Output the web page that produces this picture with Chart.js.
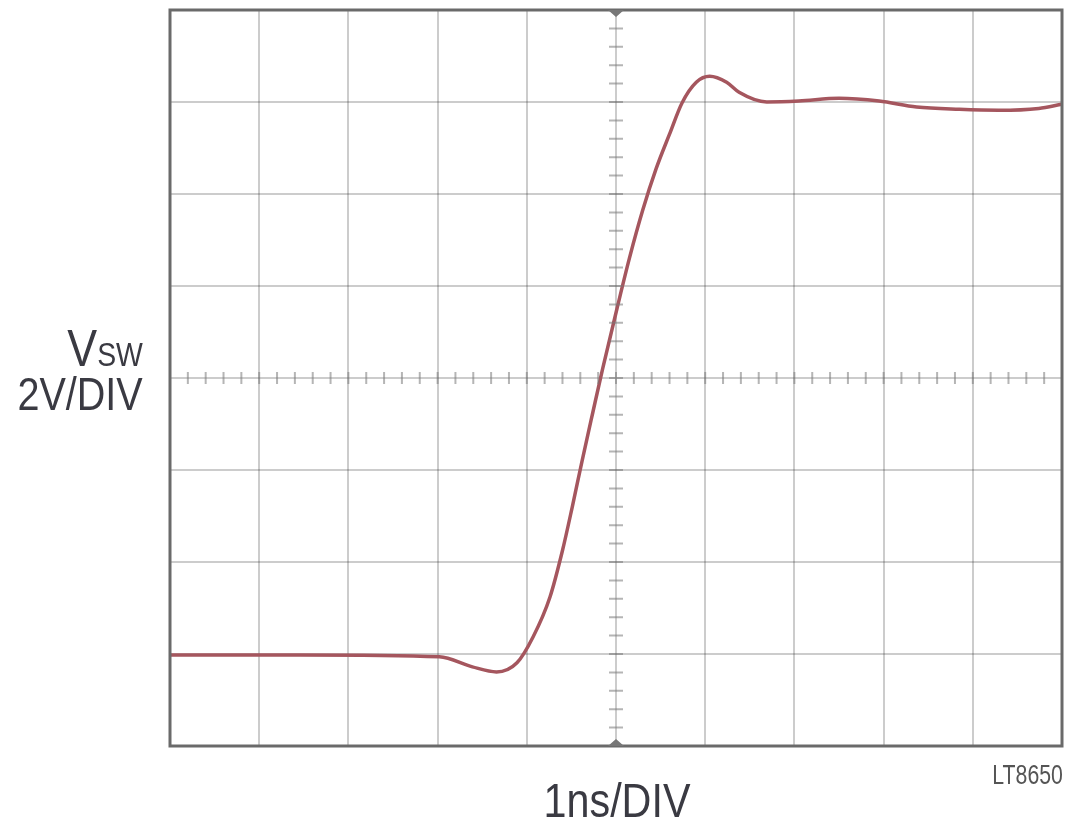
<!DOCTYPE html>
<html>
<head>
<meta charset="utf-8">
<script src="https://cdn.jsdelivr.net/npm/chart.js@4.4.1/dist/chart.umd.min.js"></script>
<style>
  html, body { margin: 0; padding: 0; background: #fff; }
  #wrap { position: relative; width: 1068px; height: 826px; overflow: hidden; }
  #scope { position: absolute; left: 0; top: 0; }
  .lbl { position: absolute; font-family: "Liberation Sans", Arial, sans-serif; color: #3a3a42; white-space: nowrap; line-height: 1; }
</style>
</head>
<body>
<div id="wrap">
  <canvas id="scope" width="1068" height="826"></canvas>
  <div class="lbl" style="right:925px; top:322px; transform:scaleX(0.86); transform-origin:right top;"><span style="font-size:52px">V</span><span style="font-size:33px">SW</span></div>
  <div class="lbl" style="right:925px; top:371px; font-size:46px; transform:scaleX(0.86); transform-origin:right top;">2V/DIV</div>
  <div class="lbl" style="left:617px; top:777px; font-size:48px; transform:translateX(-50%) scaleX(0.86);">1ns/DIV</div>
  <div class="lbl" style="right:5px; top:761px; font-size:28px; color:#555; transform:scaleX(0.76); transform-origin:right top;">LT8650</div>
</div>
<script>
'use strict';

// ============================================================
// DATA (1ns/DIV, 2V/DIV, centre = 0)
// ============================================================
const timeNs   = [0, 1.46, 3.02, 3.39, 3.66, 3.89, 4.07, 4.26, 4.40, 4.51, 4.62, 4.74, 4.85, 5.01, 5.15, 5.30, 5.45, 5.60, 5.74, 5.90, 6.05, 6.24, 6.38, 6.69, 7.05, 7.50, 7.95, 8.37, 8.85, 9.29, 9.74, 10];
const vswVolts = [-6.02, -6.02, -6.06, -6.28, -6.39, -6.19, -5.63, -4.76, -3.75, -2.80, -1.80, -0.75, 0.20, 1.50, 2.60, 3.65, 4.55, 5.30, 5.98, 6.43, 6.56, 6.43, 6.21, 6.00, 6.02, 6.08, 6.02, 5.89, 5.84, 5.82, 5.86, 5.95];
const xRange   = [0, 10];   // ns, 10 divisions
const yRange   = [-8, 8];   // V, 8 divisions

// ============================================================
// SCOPE DECORATION: frame, centre-line minor ticks, trigger marks
// ============================================================
const scopeFrame = {
  id: 'scopeFrame',
  afterDraw(chart) {
    const { ctx, chartArea: a, scales: { x, y } } = chart;
    const cx = x.getPixelForValue(5), cy = y.getPixelForValue(0);
    ctx.save();
    // minor ticks on centre axes (5 per division)
    ctx.strokeStyle = 'rgba(120,120,120,0.55)';
    ctx.lineWidth = 2;
    ctx.beginPath();
    for (let t = xRange[0]; t <= xRange[1] + 1e-6; t += 0.2) {
      const px = x.getPixelForValue(t);
      ctx.moveTo(px, cy - 6); ctx.lineTo(px, cy + 6);
    }
    for (let v = yRange[0]; v <= yRange[1] + 1e-6; v += 0.4) {
      const py = y.getPixelForValue(v);
      ctx.moveTo(cx - 7, py); ctx.lineTo(cx + 7, py);
    }
    ctx.stroke();
    // outer frame
    ctx.strokeStyle = '#6a6a6a';
    ctx.lineWidth = 3;
    ctx.strokeRect(a.left, a.top, a.right - a.left, a.bottom - a.top);
    // trigger markers
    ctx.fillStyle = '#777';
    ctx.beginPath();
    ctx.moveTo(cx - 8, a.top); ctx.lineTo(cx + 8, a.top); ctx.lineTo(cx, a.top + 7); ctx.closePath();
    ctx.moveTo(cx - 8, a.bottom); ctx.lineTo(cx + 8, a.bottom); ctx.lineTo(cx, a.bottom - 7); ctx.closePath();
    ctx.fill();
    ctx.restore();
  }
};

// ============================================================
// CHART
// ============================================================
new Chart(document.getElementById('scope'), {
  type: 'scatter',
  data: {
    datasets: [{
      label: 'VSW',
      data: timeNs.map((t, i) => ({ x: t, y: vswVolts[i] })),
      showLine: true,
      borderColor: '#a5565e',
      borderWidth: 3.5,
      pointRadius: 0,
      cubicInterpolationMode: 'monotone',
      clip: false,
    }]
  },
  options: {
    responsive: false,
    animation: false,
    layout: { padding: { left: 170, top: 10, right: 6, bottom: 80 } },
    plugins: { legend: { display: false }, tooltip: { enabled: false } },
    scales: {
      x: {
        type: 'linear', min: xRange[0], max: xRange[1],
        ticks: { display: false, stepSize: 1 },
        grid: { color: 'rgba(0,0,0,0.2)', lineWidth: 2, drawTicks: false },
        border: { display: false },
      },
      y: {
        type: 'linear', min: yRange[0], max: yRange[1],
        ticks: { display: false, stepSize: 2 },
        grid: { color: 'rgba(0,0,0,0.2)', lineWidth: 2, drawTicks: false },
        border: { display: false },
      }
    }
  },
  plugins: [scopeFrame]
});
</script>
</body>
</html>
